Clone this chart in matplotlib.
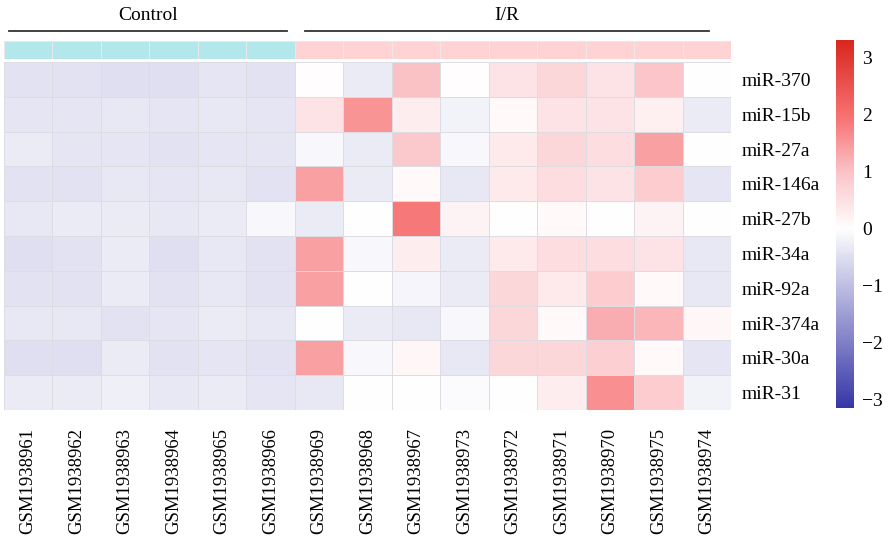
import numpy as np
import matplotlib
matplotlib.use("Agg")
import matplotlib.pyplot as plt
from matplotlib.colors import LinearSegmentedColormap, TwoSlopeNorm, ListedColormap

plt.rcParams['font.family'] = ['Liberation Serif', 'DejaVu Serif']

mirnas = ["miR-370", "miR-15b", "miR-27a", "miR-146a", "miR-27b",
          "miR-34a", "miR-92a", "miR-374a", "miR-30a", "miR-31"]
samples = ["GSM1938961", "GSM1938962", "GSM1938963", "GSM1938964", "GSM1938965",
           "GSM1938966", "GSM1938969", "GSM1938968", "GSM1938967", "GSM1938973",
           "GSM1938972", "GSM1938971", "GSM1938970", "GSM1938975", "GSM1938974"]
groups = ["Control"] * 6 + ["I/R"] * 9

# z-scored expression, rows = miRNAs, columns = samples
expr = np.array([
    [-0.45, -0.45, -0.50, -0.50, -0.40, -0.45,  0.05, -0.30,  1.00,  0.05,  0.45,  0.65,  0.45,  0.95,  0.00],
    [-0.40, -0.40, -0.35, -0.40, -0.35, -0.40,  0.45,  1.55,  0.30, -0.20,  0.10,  0.45,  0.45,  0.25, -0.30],
    [-0.30, -0.40, -0.40, -0.45, -0.40, -0.40, -0.10, -0.30,  0.90, -0.10,  0.35,  0.65,  0.55,  1.40,  0.00],
    [-0.45, -0.45, -0.35, -0.40, -0.35, -0.45,  1.40, -0.30,  0.10, -0.35,  0.35,  0.55,  0.45,  0.85, -0.40],
    [-0.35, -0.30, -0.30, -0.35, -0.30, -0.10, -0.30,  0.00,  1.90,  0.20,  0.00,  0.10,  0.00,  0.20,  0.00],
    [-0.50, -0.45, -0.30, -0.50, -0.35, -0.45,  1.40, -0.10,  0.30, -0.30,  0.35,  0.55,  0.55,  0.45, -0.35],
    [-0.45, -0.45, -0.30, -0.45, -0.35, -0.45,  1.40,  0.00, -0.15, -0.30,  0.65,  0.35,  0.85,  0.10, -0.35],
    [-0.35, -0.35, -0.45, -0.40, -0.30, -0.35,  0.00, -0.30, -0.35, -0.10,  0.65,  0.10,  1.25,  1.15,  0.15],
    [-0.50, -0.50, -0.30, -0.45, -0.40, -0.45,  1.40, -0.10,  0.15, -0.35,  0.65,  0.65,  0.75,  0.10, -0.40],
    [-0.30, -0.30, -0.25, -0.35, -0.30, -0.40, -0.35,  0.00,  0.00, -0.05,  0.00,  0.30,  1.60,  0.85, -0.20],
])

cbar_ticks = [-3, -2, -1, 0, 1, 2, 3]
vmin, vmax = -3.15, 3.3

# diverging palette: blue -> white -> salmon -> red
cmap = LinearSegmentedColormap.from_list(
    "bwr_heat",
    [(0.0, (55 / 255, 55 / 255, 168 / 255)),
     (0.5, (1.0, 1.0, 1.0)),
     (0.5 + 0.5 * 1.0 / vmax, (251 / 255, 194 / 255, 198 / 255)),
     (0.5 + 0.5 * 2.0 / vmax, (247 / 255, 112 / 255, 112 / 255)),
     (1.0, (218 / 255, 40 / 255, 32 / 255))])
norm = TwoSlopeNorm(vcenter=0.0, vmin=vmin, vmax=vmax)

W, H = 888, 539
fig = plt.figure(figsize=(W / 100, H / 100), dpi=100)

def fig_rect(x0, y0, x1, y1):
    return [x0 / W, 1 - y1 / H, (x1 - x0) / W, (y1 - y0) / H]

# main heatmap
ax = fig.add_axes(fig_rect(4, 62, 731, 410))
nr, nc = expr.shape
ax.pcolormesh(np.arange(nc + 1), np.arange(nr + 1), expr, cmap=cmap, norm=norm,
              edgecolors="#dcdce2", linewidth=0.6)
ax.set_xlim(0, nc)
ax.set_ylim(nr, 0)
for s in ax.spines.values():
    s.set_visible(False)
ax.set_xticks(np.arange(nc) + 0.5)
ax.set_xticklabels(samples, rotation=90, fontsize=13.5, va="top", ha="center")
ax.yaxis.tick_right()
ax.set_yticks(np.arange(nr) + 0.5)
ax.set_yticklabels(mirnas, fontsize=14)
ax.tick_params(axis="x", length=0, pad=13)
ax.tick_params(axis="y", length=0, pad=8)

# sample group annotation bar
ann = fig.add_axes(fig_rect(4, 41, 731, 59))
group_names = ["Control", "I/R"]
group_colors = ["#b2e7ec", "#ffd3d4"]
gidx = np.array([[group_names.index(g) for g in groups]])
ann.pcolormesh(np.arange(nc + 1), [0, 1], gidx, cmap=ListedColormap(group_colors),
               vmin=-0.5, vmax=1.5, edgecolors="#e8e8e8", linewidth=0.5)
ann.set_xlim(0, nc)
ann.set_ylim(1, 0)
ann.axis("off")

# group brackets with titles
for name, (x0, x1) in zip(group_names, [(9, 287), (305, 709)]):
    fig.add_artist(plt.Line2D([x0 / W, x1 / W], [1 - 31 / H, 1 - 31 / H],
                              color="#333333", lw=1.3))
    fig.text((x0 + x1) / 2 / W, 1 - 15 / H, name, ha="center", va="center",
             fontsize=14)

# colour bar
cax = fig.add_axes(fig_rect(836, 40, 854, 408))
grad = np.linspace(vmin, vmax, 256).reshape(-1, 1)
cax.imshow(grad, aspect="auto", cmap=cmap, norm=norm, origin="lower",
           extent=[0, 1, vmin, vmax])
cax.set_xlim(0, 1)
cax.set_ylim(vmin, vmax)
cax.set_xticks([])
cax.yaxis.tick_right()
cax.set_yticks(cbar_ticks)
cax.set_yticklabels([str(t).replace("-", "\u2212") for t in cbar_ticks], fontsize=14)
cax.tick_params(length=0, pad=6)
for s in cax.spines.values():
    s.set_visible(False)

fig.savefig("out.png", dpi=100)
